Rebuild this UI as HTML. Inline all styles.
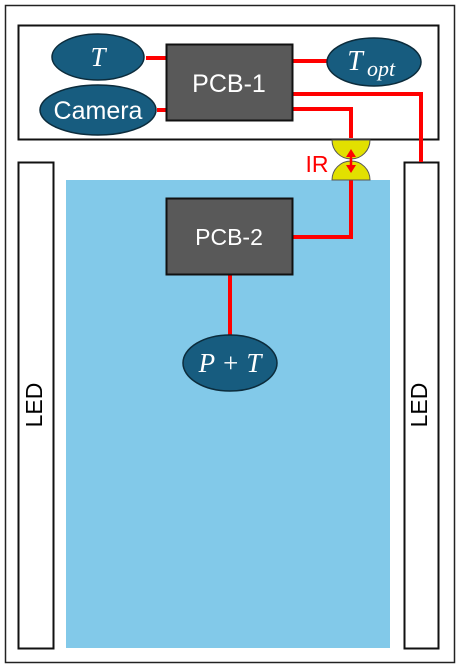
<!DOCTYPE html>
<html><head><meta charset="utf-8"><style>
body{margin:0;background:#fff}
svg{display:block;font-family:"Liberation Sans",sans-serif}
</style></head><body>
<svg width="460" height="668" viewBox="0 0 460 668">
<rect x="5.5" y="5.5" width="449" height="657" fill="#fff" stroke="#222" stroke-width="1.5"/>
<rect x="18.5" y="25.5" width="420" height="114" fill="#fff" stroke="#111" stroke-width="2"/>
<rect x="66" y="180" width="324" height="468" fill="#82c9e9"/>
<g>
<rect x="18.5" y="162.5" width="35" height="486" fill="#fff" stroke="#111" stroke-width="2"/>
<text x="36" y="405" font-size="23" text-anchor="middle" transform="rotate(-90 36 405)" dominant-baseline="middle" fill="#000">LED</text></g>
<g>
<rect x="404.5" y="162.5" width="34" height="486" fill="#fff" stroke="#111" stroke-width="2"/>
<text x="421" y="405" font-size="23" text-anchor="middle" transform="rotate(-90 421 405)" dominant-baseline="middle" fill="#000">LED</text></g>
<g fill="none" stroke="#f00" stroke-width="4">
<path d="M146 58H166"/><path d="M157 110H166"/><path d="M292 61H327"/>
<path d="M292 94H421V162"/><path d="M292 109H351V138"/>
<path d="M351 180V237H292"/><path d="M230 274V335"/>
</g>
<path d="M332 140A19 19 0 0 0 370 140Z" fill="#e2e000" stroke="#555" stroke-width="1"/>
<path d="M332 180A19 19 0 0 1 370 180Z" fill="#e2e000" stroke="#555" stroke-width="1"/>
<g fill="#f00" stroke="#f00">
<path d="M351 152V170" stroke-width="2.5"/>
<path d="M346 157L351 149L356 157Z" stroke="none"/><path d="M346 165L351 173L356 165Z" stroke="none"/></g>
<text x="317" y="172" font-size="23" fill="#f00" text-anchor="middle">IR</text>
<g><rect x="166.5" y="44.5" width="126" height="76" fill="#595959" stroke="#111" stroke-width="2"/>
<text x="229" y="92" font-size="25" fill="#fff" text-anchor="middle">PCB-1</text></g>
<g><rect x="166.5" y="198.5" width="126" height="76" fill="#595959" stroke="#111" stroke-width="2"/>
<text x="229" y="245" font-size="23" fill="#fff" text-anchor="middle">PCB-2</text></g>
<g stroke="#0c2c3c" stroke-width="1.5" fill="#175c7f">
<g><ellipse cx="98" cy="57" rx="46" ry="23"/>
<text x="98" y="66" font-size="27" fill="#fff" stroke="none" text-anchor="middle" font-family="Liberation Serif,serif" font-style="italic">T</text></g>
<g><ellipse cx="98" cy="110" rx="58" ry="25"/>
<text x="98" y="119" font-size="25" fill="#fff" stroke="none" text-anchor="middle">Camera</text></g>
<g><ellipse cx="374" cy="62" rx="47" ry="24"/>
<text x="355" y="70" font-size="28" fill="#fff" stroke="none" text-anchor="middle" font-family="Liberation Serif,serif" font-style="italic">T</text>
<text x="381" y="76" font-size="22" fill="#fff" stroke="none" text-anchor="middle" font-family="Liberation Serif,serif" font-style="italic">opt</text></g>
<g><ellipse cx="230" cy="363" rx="47" ry="28"/>
<text x="230" y="372" font-size="27" fill="#fff" stroke="none" text-anchor="middle" font-family="Liberation Serif,serif" font-style="italic">P + T</text></g>
</g>
</svg>
</body></html>
